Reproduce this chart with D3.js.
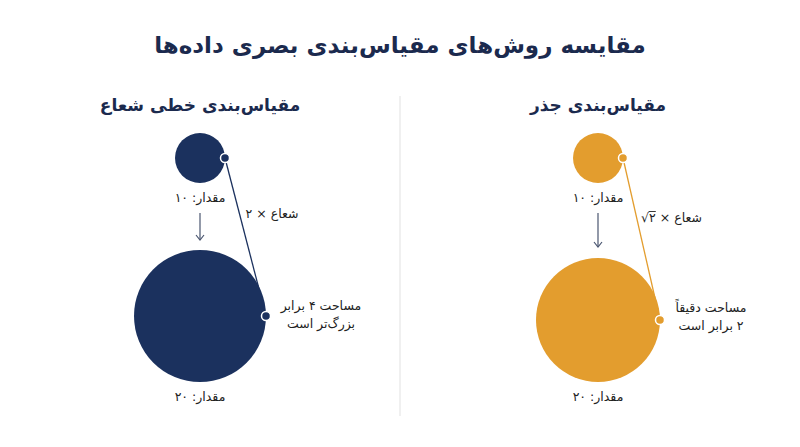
<!DOCTYPE html>
<html lang="fa" dir="rtl">
<head>
<meta charset="utf-8">
<script src="https://cdn.jsdelivr.net/npm/d3@7"></script>
<style>
  body { margin: 0; background: #fff; }
  svg { display: block; font-family: "DejaVu Sans", "Noto Sans", sans-serif; }
</style>
</head>
<body>
<svg id="chart" width="800" height="447"></svg>
<script>
// data
let values = [10, 20];
let panelTitles = ['مقیاس‌بندی خطی شعاع', 'مقیاس‌بندی جذر'];
let valueLabels = ['مقدار: ۱۰', 'مقدار: ۲۰'];
let radiusLabels = ['شعاع × ۲', 'شعاع ×'];
let radiusFactor = ['', '۲'];
let areaNotes = [['مساحت ۴ برابر', 'بزرگ‌تر است'], ['مساحت دقیقاً', '۲ برابر است']];
let panelColors = ['#1b315e', '#e39d2e'];

let navy = '#1b2a4e';
let svg = d3.select('#chart');

//layout for the two panels
let layout = [
  { cx: 200, top: 158, bottom: 316, rMax: 66, arrowLen: 27, labX: 272, labY: 218, noteX: 321, noteY: 310 },
  { cx: 598, top: 158, bottom: 320, rMax: 62, arrowLen: 34, labX: 702, labY: 222, noteX: 711, noteY: 312 }
];

// title
svg.append('text')
  .attr('x', 400).attr('y', 53)
  .attr('text-anchor', 'middle')
  .attr('font-size', 23).attr('font-weight', 'bold')
  .attr('fill', navy)
  .text('مقایسه روش‌های مقیاس‌بندی بصری داده‌ها');

// divider
svg.append('line')
  .attr('x1', 400).attr('x2', 400)
  .attr('y1', 96).attr('y2', 416)
  .attr('stroke', '#e6e6e6').attr('stroke-width', 1.2);

function drawPanel(i) {
  let L = layout[i];
  let cx = L.cx;
  let color = panelColors[i];
  let r = d3.scaleLinear().domain(values).range([25, L.rMax]);
  let y = d3.scaleLinear().domain(values).range([L.top, L.bottom]);
  let g = svg.append('g');

  g.append('text')
    .attr('x', cx).attr('y', 111)
    .attr('text-anchor', 'middle')
    .attr('font-size', 17).attr('font-weight', 'bold')
    .attr('fill', navy)
    .text(panelTitles[i]);

  // connector line between the edge points
  g.append('line')
    .attr('x1', cx + r(values[0])).attr('y1', y(values[0]))
    .attr('x2', cx + r(values[1])).attr('y2', y(values[1]))
    .attr('stroke', color).attr('stroke-width', 1.3);

  g.selectAll('circle.big')
    .data(values)
    .join('circle')
    .attr('class', 'big')
    .attr('cx', cx)
    .attr('cy', d => y(d))
    .attr('r', d => r(d))
    .attr('fill', color);

  g.selectAll('circle.dot')
    .data(values)
    .join('circle')
    .attr('class', 'dot')
    .attr('cx', d => cx + r(d))
    .attr('cy', d => y(d))
    .attr('r', 4.5)
    .attr('fill', color)
    .attr('stroke', '#fff').attr('stroke-width', 1.5);

  // value labels
  g.selectAll('text.val')
    .data(values)
    .join('text')
    .attr('class', 'val')
    .attr('x', cx)
    .attr('y', d => y(d) + r(d) + 19)
    .attr('text-anchor', 'middle')
    .attr('font-size', 12.5)
    .attr('fill', '#222')
    .text((d, j) => valueLabels[j]);

  // arrow down
  let ay1 = y(values[0]) + r(values[0]) + 30;
  let ay2 = ay1 + L.arrowLen;
  g.append('line')
    .attr('x1', cx).attr('x2', cx)
    .attr('y1', ay1).attr('y2', ay2)
    .attr('stroke', '#4a5670').attr('stroke-width', 1.2);
  g.append('path')
    .attr('d', `M${cx - 4},${ay2 - 5} L${cx},${ay2} L${cx + 4},${ay2 - 5}`)
    .attr('fill', 'none')
    .attr('stroke', '#4a5670').attr('stroke-width', 1.2);

  // radius label
  if (radiusFactor[i] == '') {
    g.append('text')
      .attr('x', L.labX).attr('y', L.labY)
      .attr('text-anchor', 'middle')
      .attr('font-size', 12.5)
      .attr('fill', '#222')
      .text(radiusLabels[i]);
  } else {
    // rtl: 'start' anchors the right edge
    let t1 = g.append('text')
      .attr('x', L.labX).attr('y', L.labY)
      .attr('text-anchor', 'start')
      .attr('font-size', 12.5)
      .attr('fill', '#222')
      .text(radiusLabels[i]);
    let w1 = t1.node().getComputedTextLength();
    let t2 = g.append('text')
      .attr('direction', 'ltr')
      .attr('x', L.labX - w1 - 4).attr('y', L.labY)
      .attr('text-anchor', 'end')
      .attr('font-size', 12.5)
      .attr('fill', '#222')
      .text('√' + radiusFactor[i]);
    let ext = t2.node().getExtentOfChar(1);
    let ext0 = t2.node().getExtentOfChar(0);
    g.append('line')
      .attr('x1', ext0.x + ext0.width - 0.5).attr('x2', ext.x + ext.width)
      .attr('y1', ext0.y + 1.5).attr('y2', ext0.y + 1.5)
      .attr('stroke', '#222').attr('stroke-width', 0.9);
  }

  // area note
  let note = g.append('text')
    .attr('text-anchor', 'middle')
    .attr('font-size', 12.5)
    .attr('fill', '#222');
  note.selectAll('tspan')
    .data(areaNotes[i])
    .join('tspan')
    .attr('x', L.noteX)
    .attr('y', (d, j) => L.noteY + j * 18)
    .text(d => d);
}

drawPanel(0);
drawPanel(1);
</script>
</body>
</html>
